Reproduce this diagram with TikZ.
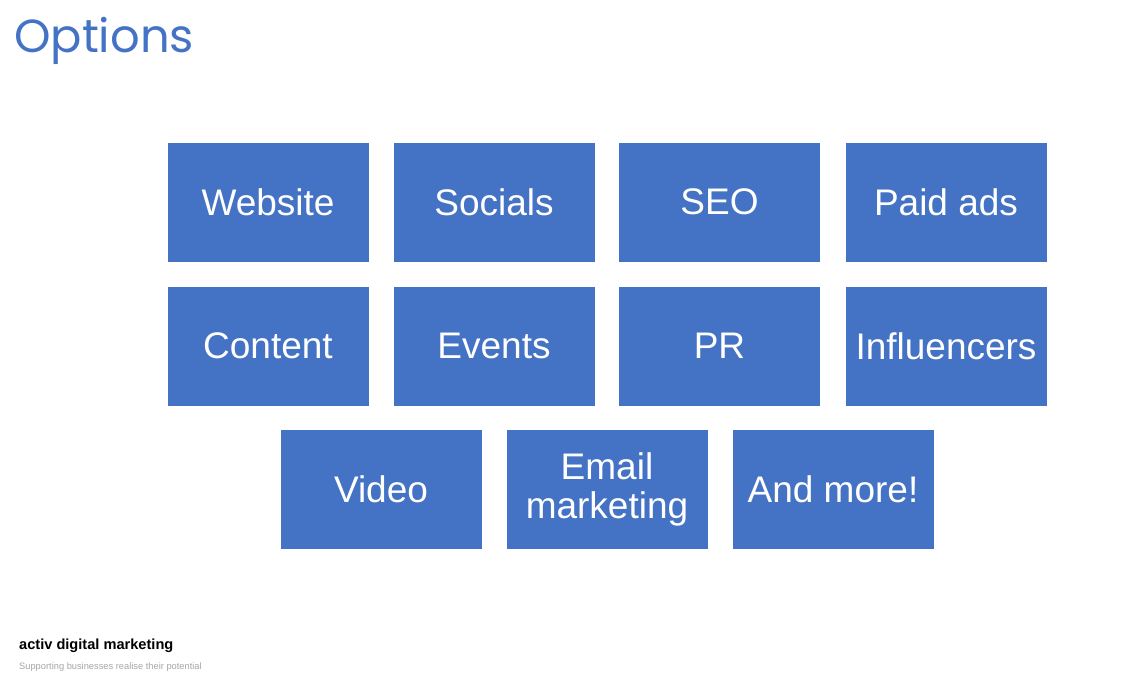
\documentclass[tikz,border=0pt]{standalone}
\usepackage{fontspec}
\setmainfont{Liberation Sans}
\newfontfamily\titlefont{Poppins}
\definecolor{optblue}{HTML}{4472C4}
\definecolor{taggray}{HTML}{A6A6A6}
\begin{document}
\begin{tikzpicture}[x=1pt, y=-1pt]
    \useasboundingbox[fill=white] (0,0) rectangle (1122,689);

    \node [anchor=base west, inner sep=0pt, text=optblue, font=\titlefont\fontsize{46.4}{56}\selectfont] (title) at (14,52) {Options};

    \begin{scope}[every node/.style={rectangle, fill=optblue, draw=white, thin, minimum width=202pt, minimum height=120pt, inner sep=0pt, align=center, text=white, font=\fontsize{37}{39}\selectfont}]
        \node (website) at (268,202) {Website};
        \node (socials) at (494,202) {Socials};
        \node (seo) at (719.5,202) {SEO};
        \node (paidads) at (946,202) {Paid ads};

        \node (content) at (268,346) {Content};
        \node (events) at (494,346) {Events};
        \node (pr) at (719.5,346) {PR};
        \node (influencers) at (946,346) {Influencers};

        \node (video) at (381,489.5) {Video};
        \node (email) at (607,489.5) {Email\\marketing};
        \node (more) at (833,489.5) {And more!};
    \end{scope}

    \begin{scope}[every node/.style={anchor=base west, inner sep=0pt}]
        \node [font=\bfseries\fontsize{14.6}{16}\selectfont] (brand) at (19,649) {activ digital marketing};
        \node [text=taggray, font=\fontsize{9.3}{10}\selectfont] (tagline) at (19,669) {Supporting businesses realise their potential};
    \end{scope}
\end{tikzpicture}
\end{document}
